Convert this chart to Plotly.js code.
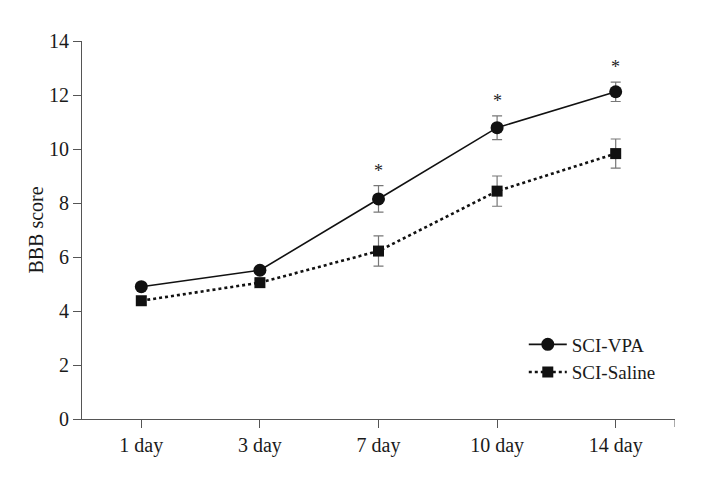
<!DOCTYPE html>
<html>
<head>
<meta charset="utf-8">
<script src="https://cdn.plot.ly/plotly-3.0.1.min.js"></script>
<style>
  body { margin: 0; background: #fff; }
  #plot { width: 704px; height: 482px; }
</style>
</head>
<body>
<div id="plot"></div>
<script>
// Days after injury
const days = ['1 day', '3 day', '7 day', '10 day', '14 day'];

// BBB scores
const vpaScore = [4.90, 5.51, 8.15, 10.79, 12.12];
const vpaErr = [0.10, 0.10, 0.49, 0.44, 0.36];
const salineScore = [4.38, 5.05, 6.22, 8.44, 9.83];
const salineErr = [0.15, 0.12, 0.56, 0.56, 0.54];

// Days with a significant difference
const starDays = ['7 day', '10 day', '14 day'];

const serif = '"Liberation Serif", serif';

const vpaTrace = {
    x: days,
    y: vpaScore,
    type: 'scatter',
    mode: 'lines+markers',
    name: 'SCI-VPA',
    line: { color: '#111', width: 1.6 },
    marker: { symbol: 'circle', size: 13, color: '#111' },
    error_y: { type: 'data', array: vpaErr, visible: true, color: '#777', thickness: 1.2, width: 5 }
};

const salineTrace = {
    x: days,
    y: salineScore,
    type: 'scatter',
    mode: 'lines+markers',
    name: 'SCI-Saline',
    line: { color: '#111', width: 2.6, dash: 'dot' },
    marker: { symbol: 'square', size: 11, color: '#111' },
    error_y: { type: 'data', array: salineErr, visible: true, color: '#777', thickness: 1.2, width: 5 }
};

// Asterisks sit just above the VPA error bars
const stars = starDays.map(d => {
    const i = days.indexOf(d);
    return {
        x: d,
        y: vpaScore[i] + vpaErr[i],
        xref: 'x',
        yref: 'y',
        text: '*',
        showarrow: false,
        yanchor: 'middle',
        yshift: 15,
        font: { family: serif, size: 18, color: '#222' }
    };
});

let layout = {
    width: 704,
    height: 482,
    margin: { l: 82, r: 29, t: 41, b: 63 },
    paper_bgcolor: '#fff',
    plot_bgcolor: '#fff',
    font: { family: serif, size: 20, color: '#1a1a1a' },
    showlegend: true,
    xaxis: {
        type: 'category',
        range: [-0.5, 4.5],
        showgrid: false,
        zeroline: false,
        showline: true,
        linecolor: '#555',
        linewidth: 1,
        ticks: 'outside',
        ticklen: 8,
        tickcolor: '#555',
        tickfont: { family: serif, size: 20, color: '#1a1a1a' }
    },
    yaxis: {
        range: [0, 14],
        dtick: 2,
        showgrid: false,
        zeroline: false,
        showline: true,
        linecolor: '#555',
        linewidth: 1,
        ticks: 'outside',
        ticklen: 8,
        tickcolor: '#555',
        tickfont: { family: serif, size: 20, color: '#1a1a1a' },
        title: { text: 'BBB score', font: { family: serif, size: 20, color: '#1a1a1a' }, standoff: 0 }
    },
    legend: {
        x: 0.745,
        xanchor: 'left',
        y: 0.16,
        yanchor: 'middle',
        bgcolor: 'rgba(0,0,0,0)',
        font: { family: serif, size: 19, color: '#1a1a1a' },
        itemwidth: 38,
        tracegroupgap: 0
    },
    annotations: stars,
    shapes: [{
        // closing tick at the right end of the x axis
        type: 'line',
        xref: 'x',
        yref: 'paper',
        x0: 4.5,
        x1: 4.5,
        ysizemode: 'pixel',
        yanchor: 0,
        y0: 0,
        y1: -8,
        line: { color: '#555', width: 1 }
    }]
};

Plotly.newPlot('plot', [vpaTrace, salineTrace], layout, { displayModeBar: false, staticPlot: true });
</script>
</body>
</html>
